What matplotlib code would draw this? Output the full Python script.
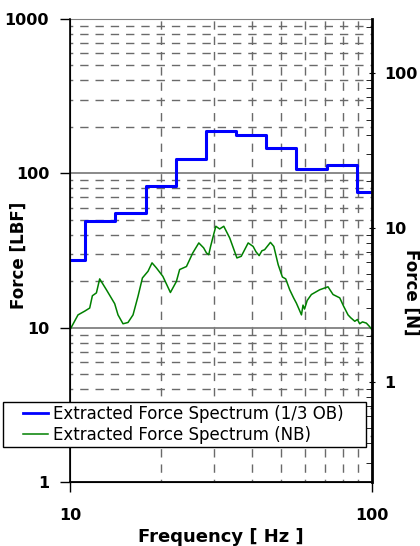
import matplotlib
matplotlib.use("Agg")
import matplotlib.pyplot as plt
import numpy as np
from matplotlib.ticker import LogLocator, NullFormatter, FixedLocator, FixedFormatter
from matplotlib.legend_handler import HandlerLine2D

plt.rcParams['font.family'] = ['DejaVu Sans']

# 1/3 octave band edges [Hz] and band levels [LBF]
ob_edges = [10, 11.2, 14.1, 17.8, 22.4, 28.2, 35.5, 44.7, 56.2, 70.8, 89.1, 100]
ob_force = [27.5, 48.9, 55.0, 82.5, 124.5, 189, 176, 145, 106.8, 112.7, 76]

# narrowband spectrum [Hz], [LBF]
nb_freq = [10.0, 10.63, 11.19, 11.62, 11.86, 12.23, 12.54, 13.2, 14.06, 14.42,
           14.98, 15.56, 16.17, 16.8, 17.37, 18.13, 18.69, 19.32, 20.3, 21.5,
           22.5, 23.07, 24.3, 25.5, 26.7, 27.7, 28.3, 28.8, 29.2, 29.6,
           30.4, 31.3, 32.3, 33.8, 35.7, 36.9, 38.9, 40.4, 41.3, 42.3,
           43.2, 44.1, 46.1, 47.3, 48.9, 50.5, 51.8, 53.4, 55.0, 56.2,
           57.3, 58.4, 59.1, 59.8, 61.0, 63.0, 67.1, 71.5, 74.3, 78.2,
           80.5, 83.3, 85.0, 87.7, 89.5, 91.0, 93.0, 95.8, 98.0, 100.0]
nb_force = [9.7, 12.1, 12.8, 13.4, 16.1, 16.8, 20.7, 17.6, 14.3, 12.1,
            10.6, 10.8, 12.1, 16.0, 21.0, 23.2, 26.3, 24.4, 21.5, 16.9,
            19.9, 23.8, 24.9, 30.5, 35.4, 32.9, 30.5, 29.7, 33.5, 37.2,
            45.4, 43.6, 45.4, 38.1, 28.3, 29.0, 35.4, 33.6, 31.0, 29.3,
            31.5, 32.0, 35.7, 33.6, 25.6, 21.3, 20.7, 17.6, 15.6, 14.4,
            13.2, 12.1, 14.0, 13.2, 15.0, 16.4, 17.6, 18.4, 16.4, 15.6,
            13.8, 12.1, 11.6, 11.0, 11.3, 10.6, 10.9, 10.7, 10.2, 9.7]

LBF_TO_N = 4.448

fig = plt.figure(figsize=(4.2, 5.46), dpi=100)
ax = fig.add_axes([70 / 420, 64 / 546, 302 / 420, 463 / 546])

blue, = ax.step(ob_edges, ob_force + [ob_force[-1]], where='post', color='#0000ff', lw=2.2,
                label='Extracted Force Spectrum (1/3 OB)', zorder=4)
green, = ax.plot(nb_freq, nb_force, color='#008000', lw=1.1,
                 label='Extracted Force Spectrum (NB)', zorder=3)

ax.set_xscale('log')
ax.set_yscale('log')
ax.set_xlim(10, 100)
ax.set_ylim(1, 1000)

ax.xaxis.set_major_locator(FixedLocator([10, 100]))
ax.xaxis.set_major_formatter(FixedFormatter(['10', '100']))
ax.xaxis.set_minor_locator(LogLocator(base=10, subs=np.arange(2, 10)))
ax.xaxis.set_minor_formatter(NullFormatter())
ax.yaxis.set_major_locator(FixedLocator([1, 10, 100, 1000]))
ax.yaxis.set_major_formatter(FixedFormatter(['1', '10', '100', '1000']))
ax.yaxis.set_minor_locator(LogLocator(base=10, subs=np.arange(2, 10)))
ax.yaxis.set_minor_formatter(NullFormatter())

ax.tick_params(axis='both', which='major', direction='out', length=7, width=1)
ax.tick_params(axis='both', which='minor', length=0)
ax.tick_params(axis='x', which='major', pad=11.5, labelsize=11.5)
ax.tick_params(axis='y', which='major', pad=8, labelsize=11.5)
for lab in ax.get_xticklabels() + ax.get_yticklabels():
    lab.set_fontweight('bold')

ax.grid(True, which='minor', axis='both', linestyle=(4, (6, 5)), color='#6a6a6a', lw=1.0)
ax.grid(True, which='major', axis='y', linestyle='-', color='#808080', lw=1.3)
ax.grid(False, which='major', axis='x')

ax.spines['top'].set_color('#808080')
ax.spines['left'].set_linewidth(1.2)
ax.spines['bottom'].set_linewidth(1.2)

ax.set_xlabel('Frequency [ Hz ]', fontsize=13, fontweight='bold')
ax.xaxis.set_label_coords(0.5, -0.1)
ax.set_ylabel('Force [LBF]', fontsize=12, fontweight='bold')
ax.yaxis.set_label_coords(-0.14, 0.49)

# right axis in Newtons
ax2 = ax.twinx()
ax2.set_yscale('log')
ax2.set_ylim(1 / LBF_TO_N, 1000 / LBF_TO_N)
ax2.yaxis.set_major_locator(FixedLocator([1, 10, 100]))
ax2.yaxis.set_major_formatter(FixedFormatter(['1', '10', '100']))
ax2.yaxis.set_minor_locator(LogLocator(base=10, subs=np.arange(2, 10)))
ax2.yaxis.set_minor_formatter(NullFormatter())
ax2.tick_params(axis='y', which='major', direction='inout', length=5, pad=6, labelsize=11.5)
ax2.tick_params(axis='y', which='minor', direction='in', length=4)
for lab in ax2.get_yticklabels():
    lab.set_fontweight('bold')
ax2.spines['right'].set_linewidth(2)
ax2.spines['top'].set_visible(False)
ax2.set_ylabel('Force [N]', fontsize=12, fontweight='bold', rotation=-90)
ax2.yaxis.set_label_coords(1.16, 0.41)

leg = fig.legend([blue, green], [blue.get_label(), green.get_label()], loc='upper left',
                 bbox_to_anchor=(3 / 420, 1 - 450 / 546, 363 / 420, 48 / 546),
                 mode='expand', fontsize=12, frameon=True, fancybox=False,
                 edgecolor='black', framealpha=1, borderaxespad=0,
                 handlelength=2.53, handletextpad=0.3, labelspacing=0.2,
                 borderpad=0.17,
                 handler_map={blue: HandlerLine2D(xpad=1.03),
                              green: HandlerLine2D(xpad=1.03)})
leg.get_frame().set_linewidth(1)
leg.legend_handles[0].set_linewidth(2.0)
leg.legend_handles[1].set_linewidth(1.1)

fig.savefig('out.png', dpi=100)
